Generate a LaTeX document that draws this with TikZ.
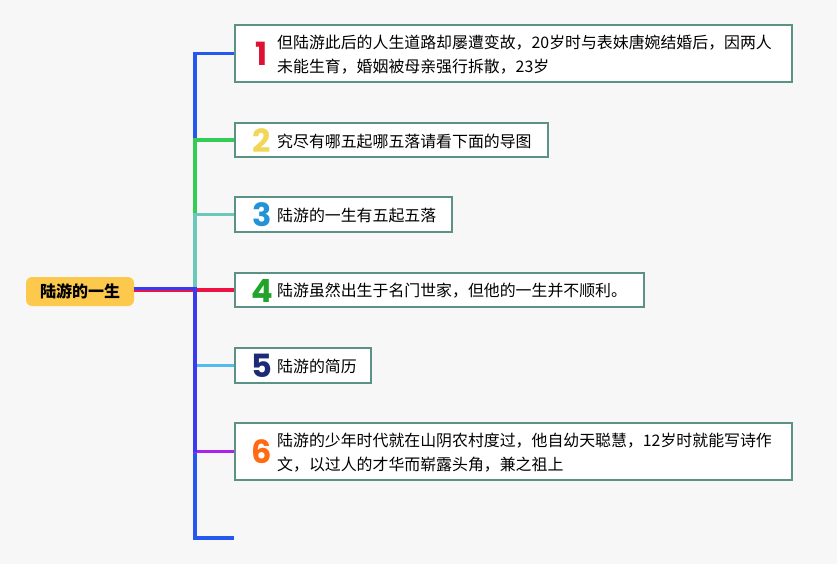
\documentclass[tikz,border=0pt]{standalone}
\usepackage{fontspec}
\setmainfont{Noto Sans CJK SC}
\newfontfamily\numfont{Poppins}[BoldFont=* Bold]
\definecolor{bgc}{HTML}{F7F7F7}
\definecolor{boxc}{HTML}{5B9285}
\definecolor{rootc}{HTML}{FCC94C}
\definecolor{blueA}{HTML}{2458EE}
\definecolor{greenA}{HTML}{33CC55}
\definecolor{tealA}{HTML}{6CC8B8}
\definecolor{redA}{HTML}{EE1144}
\definecolor{cyanA}{HTML}{55BBEE}
\definecolor{purpleA}{HTML}{AA22EE}
\definecolor{indigoA}{HTML}{3A3AF0}
\definecolor{n1}{HTML}{DD1133}
\definecolor{n2}{HTML}{F2D657}
\definecolor{n3}{HTML}{2293D6}
\definecolor{n4}{HTML}{22A32A}
\definecolor{n5}{HTML}{1C2A78}
\definecolor{n6}{HTML}{FF6A12}
\begin{document}
\begin{tikzpicture}[x=1pt,y=-1pt,
  card/.style={draw=boxc,line width=1.8pt,fill=white,inner sep=0pt,minimum width=#1},
  numtxt/.style={font=\numfont\bfseries\fontsize{32}{32}\selectfont,inner sep=0pt},
  bodytxt/.style={font=\fontsize{15.9}{24}\selectfont,inner sep=0pt,anchor=west,align=left},
  branch/.style={line width=3.3pt}]
\fill[bgc] (0,0) rectangle (837,564);
\useasboundingbox (0,0) rectangle (837,564);
% root
\node[fill=rootc,rounded corners=6pt,minimum width=108pt,minimum height=29pt,inner sep=0pt,
  font=\bfseries\fontsize{16}{16}\selectfont] (root) at (80,291.5) {陆游的一生};
% boxes
\node[card=557pt,minimum height=57pt] (b1) at (513.5,53.5) {};
\node[card=313pt,minimum height=34pt] (b2) at (391.5,140) {};
\node[card=217pt,minimum height=35pt] (b3) at (343.5,214.5) {};
\node[card=409pt,minimum height=34pt] (b4) at (439.5,290) {};
\node[card=136pt,minimum height=35pt] (b5) at (303,365.5) {};
\node[card=557pt,minimum height=57pt] (b6) at (513.5,451.5) {};
% numbers
\node[numtxt,text=n1] (k1) at (262,54) {1};
\node[numtxt,text=n2] (k2) at (262,141) {2};
\node[numtxt,text=n3] (k3) at (262,215) {3};
\node[numtxt,text=n4] (k4) at (262,291) {4};
\node[numtxt,text=n5] (k5) at (262,366) {5};
\node[numtxt,text=n6] (k6) at (262,452) {6};
% texts
\node[bodytxt] (t1) at (277,55) {但陆游此后的人生道路却屡遭变故，20岁时与表妹唐婉结婚后，因两人\\未能生育，婚姻被母亲强行拆散，23岁};
\node[bodytxt] (t2) at (277,141) {究尽有哪五起哪五落请看下面的导图};
\node[bodytxt] (t3) at (277,215) {陆游的一生有五起五落};
\node[bodytxt] (t4) at (277,291) {陆游虽然出生于名门世家，但他的一生并不顺利。};
\node[bodytxt] (t5) at (277,366) {陆游的简历};
\node[bodytxt] (t6) at (277,453) {陆游的少年时代就在山阴农村度过，他自幼天聪慧，12岁时就能写诗作\\文，以过人的才华而崭露头角，兼之祖上};
% connectors
\coordinate (hub) at (195,290);
\coordinate (e7) at (234,538);
\draw[branch,blueA] (hub) |- (b1.west);
\draw[branch,greenA] (hub) |- (b2.west);
\draw[branch,tealA] (hub) |- (b3.west);
\draw[branch,blueA] (hub) |- (e7);
\draw[branch,cyanA] (hub) |- (b5.west);
\draw[branch,purpleA] (hub) |- (b6.west);
\draw[branch,redA] (root.east |- hub) -- (b4.west |- hub);
\draw[branch,indigoA] ([yshift=1.5pt]root.east |- hub) -- ([yshift=1.5pt]hub) -- (hub |- b6.west);
\end{tikzpicture}
\end{document}
